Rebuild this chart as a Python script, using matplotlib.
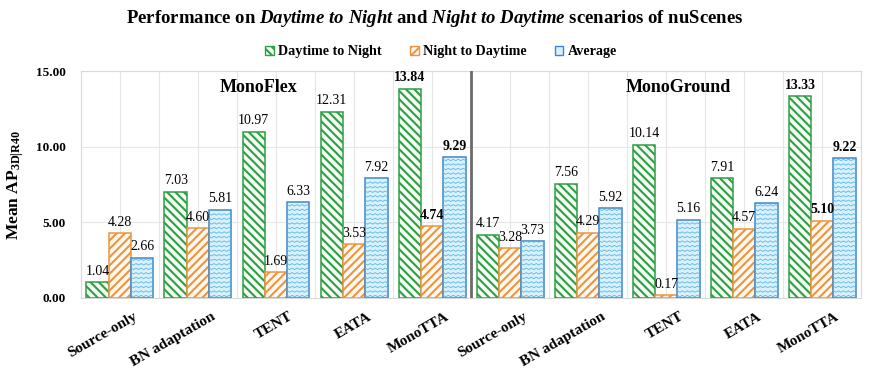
import numpy as np
import matplotlib
matplotlib.use("Agg")
import matplotlib.pyplot as plt
import matplotlib.transforms as mtransforms
from matplotlib.patches import Patch

# datos
metodos = ["Source-only", "BN adaptation", "TENT", "EATA", "MonoTTA"]
detectores = ["MonoFlex", "MonoGround"]
series = ["Daytime to Night", "Night to Daytime", "Average"]

dia_noche = [1.04, 7.03, 10.97, 12.31, 13.84, 4.17, 7.56, 10.14, 7.91, 13.33]
noche_dia = [4.28, 4.60, 1.69, 3.53, 4.74, 3.28, 4.29, 0.17, 4.57, 5.10]
promedio = [2.66, 5.81, 6.33, 7.92, 9.29, 3.73, 5.92, 5.16, 6.24, 9.22]

etiquetas = metodos * len(detectores)
destacados = [4, 9]  # MonoTTA en negrita

plt.rcParams["font.family"] = ["Liberation Serif", "DejaVu Serif"]
plt.rcParams["mathtext.fontset"] = "custom"
plt.rcParams["mathtext.rm"] = "Liberation Serif:bold"
plt.rcParams["mathtext.it"] = "Liberation Serif:italic:bold"
plt.rcParams["mathtext.bf"] = "Liberation Serif:bold"
plt.rcParams["hatch.linewidth"] = 1.5

verde = "#2f9e44"
naranja = "#ec9440"
azul_borde = "#3f86c8"
azul_fondo = "#d9f1fb"
azul_onda = "#5ab6e8"

fig = plt.figure(figsize=(8.7, 3.7), dpi=100)
ax = fig.add_axes([0.093, 0.195, 0.897, 0.613])

x = np.arange(len(etiquetas))
ancho = 0.286

b1 = ax.bar(x - ancho, dia_noche, ancho, facecolor="#f4fcf4", edgecolor=verde,
            hatch="\\\\\\\\", linewidth=1.1, zorder=3)
b2 = ax.bar(x, noche_dia, ancho, facecolor="#fff8ee", edgecolor=naranja,
            hatch="////", linewidth=1.1, zorder=3)
b3 = ax.bar(x + ancho, promedio, ancho, facecolor=azul_fondo, edgecolor=azul_borde,
            linewidth=1.1, zorder=3)

# relleno ondulado para la serie "Average"
for barra in b3:
    x0 = barra.get_x()
    w = barra.get_width()
    h = barra.get_height()
    xs = np.arange(x0, x0 + w + 0.04, 0.032)
    for y0 in np.arange(0.12, h, 0.3):
        ys = y0 + 0.05 * (-1) ** np.arange(len(xs))
        ln, = ax.plot(xs, ys, color=azul_onda, lw=0.6, zorder=4)
        ln.set_clip_path(barra)

# etiquetas de valores
for serie, barras in zip([dia_noche, noche_dia, promedio], [b1, b2, b3]):
    for i, (v, barra) in enumerate(zip(serie, barras)):
        peso = "bold" if i in destacados else "normal"
        ax.text(barra.get_x() + barra.get_width() / 2, v + 0.3, f"{v:.2f}",
                ha="center", va="bottom", fontsize=10, fontweight=peso, zorder=5)

ax.set_xlim(-0.5, len(etiquetas) - 0.5)
ax.set_ylim(0, 15)
ax.set_yticks(np.arange(0, 15.1, 5))
ax.set_yticklabels([f"{v:.2f}" for v in np.arange(0, 15.1, 5)],
                   fontsize=9.5, fontweight="bold")
ax.set_xticks(x)
ax.set_xticklabels([])

# etiquetas del eje x giradas, algo desplazadas a la derecha
desplaza = mtransforms.ScaledTranslation(13 / 100, -12 / 100, fig.dpi_scale_trans)
for xi, txt in zip(x, etiquetas):
    ax.text(xi, 0, txt, transform=ax.get_xaxis_transform() + desplaza,
            rotation=30, ha="right", va="top", rotation_mode="anchor",
            fontsize=11, fontweight="bold")

ax.tick_params(length=0)
ax.tick_params(axis="y", pad=11)

ax.set_xticks(np.arange(-0.5, len(etiquetas), 1), minor=True)
ax.tick_params(which="minor", length=0)
ax.grid(True, which="major", color="#e6e6e6", lw=0.8, zorder=0)
ax.grid(True, which="minor", axis="x", color="#e6e6e6", lw=0.8, zorder=0)
ax.set_axisbelow(True)
for s in ax.spines.values():
    s.set_color("#d9d9d9")

# separador entre detectores
ax.axvline(4.5, color="#6b6b6b", lw=2, zorder=6)

ax.text(1.77, 13.9, detectores[0], ha="center", va="center", fontsize=13, fontweight="bold")
ax.text(7.15, 13.9, detectores[1], ha="center", va="center", fontsize=13, fontweight="bold")

ax.set_ylabel(r"Mean AP$_{\mathrm{3D|R40}}$", fontsize=12.5, fontweight="bold", labelpad=7)

fig.text(0.5, 0.95, r"Performance on $\mathit{Daytime\ to\ Night}$ and "
         r"$\mathit{Night\ to\ Daytime}$ scenarios of nuScenes",
         ha="center", va="center", fontsize=13.5, fontweight="bold")

manijas = [Patch(facecolor="#f4fcf4", edgecolor=verde, hatch="\\\\\\\\"),
           Patch(facecolor="#fff8ee", edgecolor=naranja, hatch="////"),
           Patch(facecolor=azul_fondo, edgecolor=azul_borde)]
fig.legend(manijas, series, loc="center", bbox_to_anchor=(0.507, 0.86), ncol=3,
           frameon=False, prop={"weight": "bold", "size": 10.2},
           handlelength=0.6, handleheight=0.6, handletextpad=0.3, columnspacing=2.0)

fig.savefig("out.png", dpi=100)
